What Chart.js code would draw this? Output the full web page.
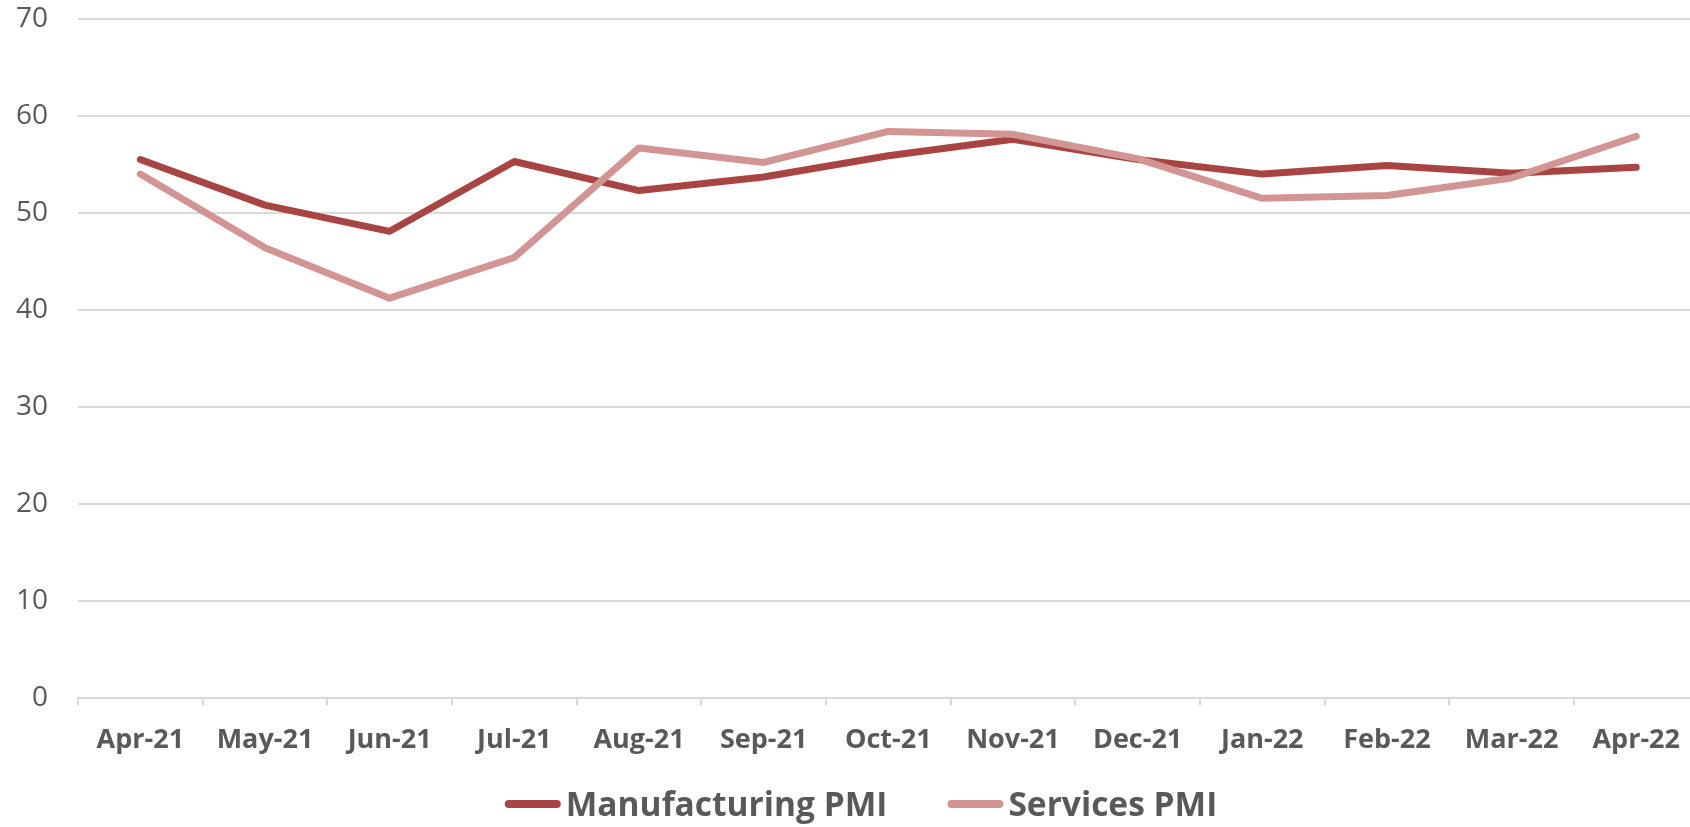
<!DOCTYPE html>
<html>
<head>
<meta charset="utf-8">
<title>Manufacturing and Services PMI</title>
<script src="https://cdn.jsdelivr.net/npm/chart.js@4/dist/chart.umd.min.js"></script>
<style>
  html, body { margin: 0; padding: 0; background: #ffffff; overflow: hidden; }
  #wrap { width: 1699px; height: 827px; }
</style>
</head>
<body>
<div id="wrap"><canvas id="pmi" width="1699" height="827"></canvas></div>
<script>
// Monthly PMI readings, April 2021 to April 2022
const months = ['Apr-21', 'May-21', 'Jun-21', 'Jul-21', 'Aug-21', 'Sep-21', 'Oct-21',
                'Nov-21', 'Dec-21', 'Jan-22', 'Feb-22', 'Mar-22', 'Apr-22'];
const manufacturingPMI = [55.5, 50.8, 48.1, 55.3, 52.3, 53.7, 55.9, 57.6, 55.5, 54.0, 54.9, 54.1, 54.7];
const servicesPMI      = [54.0, 46.4, 41.2, 45.4, 56.7, 55.2, 58.4, 58.1, 55.6, 51.5, 51.8, 53.6, 57.9];
const yTicks = [0, 10, 20, 30, 40, 50, 60, 70];

const TEXT = '#595959';
const GRID = '#D9D9D9';
const FONT = "'Open Sans', 'Liberation Sans', sans-serif";

// Legend drawn under the axis: short thick line swatch followed by the series name
const bottomLegend = {
  id: 'bottomLegend',
  afterDraw(chart) {
    const ctx = chart.ctx;
    const sets = chart.data.datasets;
    const swatch = 56, gap = 5, spacing = 60, lineY = 804, baseline = 816;
    ctx.save();
    ctx.font = "bold 33.5px " + FONT;
    ctx.textBaseline = 'alphabetic';
    const widths = sets.map(d => ctx.measureText(d.label).width);
    let total = 0;
    widths.forEach((w, i) => { total += swatch + gap + w + (i ? spacing : 0); });
    let x = 861 - total / 2;
    sets.forEach((d, i) => {
      ctx.strokeStyle = d.borderColor;
      ctx.lineWidth = 8;
      ctx.lineCap = 'round';
      ctx.beginPath();
      ctx.moveTo(x + 4, lineY);
      ctx.lineTo(x + swatch - 4, lineY);
      ctx.stroke();
      ctx.fillStyle = TEXT;
      ctx.fillText(d.label, x + swatch + gap, baseline);
      x += swatch + gap + widths[i] + spacing;
    });
    ctx.restore();
  }
};

new Chart(document.getElementById('pmi'), {
  type: 'line',
  data: {
    labels: months,
    datasets: [
      {
        label: 'Manufacturing PMI',
        data: manufacturingPMI,
        borderColor: '#A84543',
        backgroundColor: '#A84543',
        borderWidth: 7,
        borderCapStyle: 'round',
        borderJoinStyle: 'round',
        pointRadius: 0,
        tension: 0,
        order: 1
      },
      {
        label: 'Services PMI',
        data: servicesPMI,
        borderColor: '#D39593',
        backgroundColor: '#D39593',
        borderWidth: 7,
        borderCapStyle: 'round',
        borderJoinStyle: 'round',
        pointRadius: 0,
        tension: 0,
        order: 0
      }
    ]
  },
  options: {
    responsive: false,
    animation: false,
    devicePixelRatio: 1,
    layout: { padding: { left: 16, top: 19, right: 0, bottom: 51 } },
    plugins: {
      legend: { display: false },
      tooltip: { enabled: false }
    },
    scales: {
      x: {
        type: 'category',
        offset: true,
        grid: {
          offset: true,
          drawOnChartArea: false,
          drawTicks: true,
          tickLength: 8,
          color: GRID,
          lineWidth: 2
        },
        border: { display: true, color: GRID, width: 2 },
        ticks: {
          color: TEXT,
          font: { family: FONT, size: 27, weight: 'bold' },
          padding: 19,
          maxRotation: 0,
          autoSkip: false
        }
      },
      y: {
        min: 0,
        max: 70,
        afterBuildTicks(scale) { scale.ticks = yTicks.map(v => ({ value: v })); },
        grid: { color: GRID, lineWidth: 2, drawTicks: true, tickLength: 30, tickColor: 'rgba(0,0,0,0)' },
        border: { display: false },
        ticks: {
          color: TEXT,
          font: { family: FONT, size: 28 },
          padding: 0
        }
      }
    }
  },
  plugins: [bottomLegend]
});
</script>
</body>
</html>
